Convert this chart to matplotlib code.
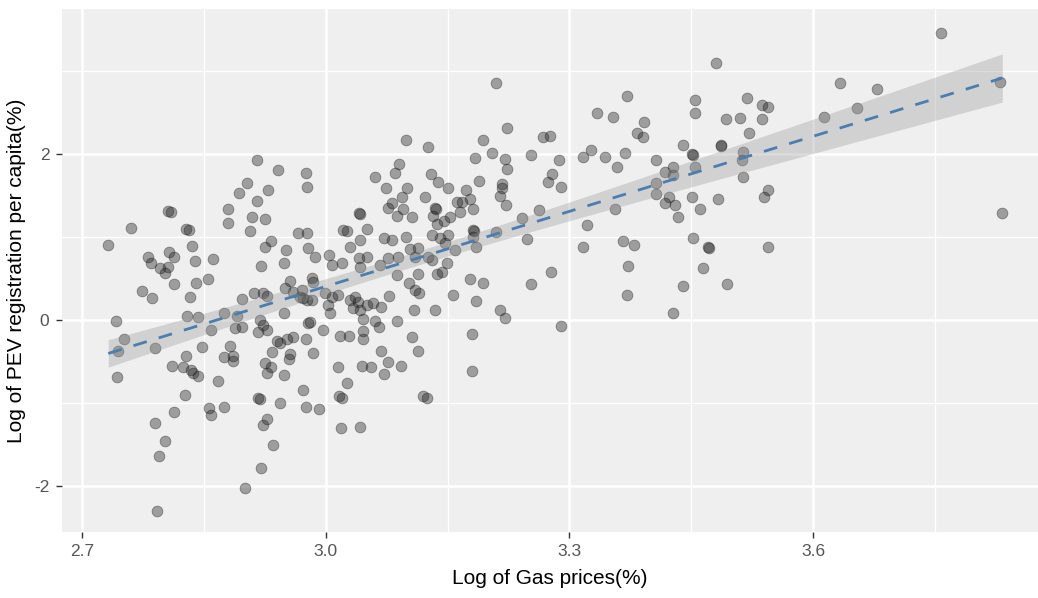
import numpy as np
import matplotlib
matplotlib.use("Agg")
import matplotlib.pyplot as plt

plt.rcParams['font.family'] = ['Liberation Sans', 'DejaVu Sans']

# log of gas prices (x) and log of PEV registrations per capita (y)
gas = [
    2.915, 2.941, 2.975, 2.977, 2.903, 2.893, 2.929, 2.915, 2.879, 2.880,
    2.909, 2.925, 2.906, 2.805, 2.809, 2.828, 2.831, 2.760, 2.732, 2.835,
    2.807, 2.813, 2.781, 2.785, 2.839, 2.861, 2.966, 2.977, 2.933, 2.925,
    2.951, 2.948, 2.920, 2.796, 2.806, 2.978,
    2.802, 2.813, 2.840, 2.855, 2.774, 2.786, 2.833, 2.897, 2.911, 2.922,
    2.928, 2.956, 2.950, 2.960, 2.968, 2.977, 2.948, 2.741, 2.752, 2.744,
    2.743, 2.790, 2.829, 2.842, 2.859, 2.848, 2.891, 2.888, 2.897, 2.919,
    2.922, 2.927, 2.917, 2.874, 2.882, 2.874, 2.886, 2.886, 2.828, 2.810,
    2.824, 2.834, 2.836, 2.842, 2.867, 2.826, 2.813, 2.856, 2.858, 2.875,
    2.790, 2.802, 2.795, 2.792, 2.901, 2.920, 2.935, 2.923, 2.928, 2.917,
    2.919, 2.944, 2.972, 2.976, 2.925, 2.932, 2.928, 2.948, 2.934, 2.940,
    2.943, 2.952, 2.960, 2.956, 2.954, 2.976, 2.978,
    3.210, 3.223, 3.268, 3.276, 3.099, 3.126, 3.194, 3.184, 3.205, 3.221,
    3.223, 3.253, 3.273, 3.090, 3.085, 3.061, 3.074, 3.100, 3.094, 3.130,
    3.138, 3.151, 3.122, 3.188, 3.217, 3.217, 3.215, 3.222, 3.172, 3.177,
    3.162, 3.168, 3.165, 3.181, 3.135, 3.136, 3.132, 3.137, 3.145, 3.153,
    3.077, 3.081, 3.088, 3.095, 3.106, 3.041, 3.042, 3.051, 3.021, 3.026,
    3.042, 3.030, 3.072, 3.082, 3.099, 3.131, 3.141, 3.151, 3.147, 3.181,
    3.183, 3.181, 3.185, 3.209, 3.242, 3.262, 3.248, 2.987, 3.004, 3.008,
    3.020, 3.041, 3.051, 3.042, 3.067, 3.076, 3.104, 3.114, 3.110, 3.126,
    3.131, 3.159, 3.149, 3.089,
    2.983, 2.984, 2.971, 2.972, 2.983, 2.999, 3.008, 3.015, 3.030, 3.036,
    3.040, 3.034, 3.042, 3.051, 3.058, 3.068, 3.078, 3.087, 3.102, 3.110,
    3.115, 3.113, 3.137, 3.143, 3.157, 3.177, 3.194, 3.185, 3.135, 3.108,
    3.253, 3.215, 3.221, 3.277, 3.003, 3.005, 2.981, 2.996, 3.046, 3.060,
    3.066, 3.088, 3.018, 3.028, 3.046, 3.046, 2.984, 3.068, 3.076, 3.106,
    3.114, 3.180, 3.015, 3.044, 3.055, 3.071, 3.093, 3.026, 3.016, 3.020,
    2.992, 3.120, 3.125, 3.180, 3.019, 3.042,
    3.481, 3.371, 3.334, 3.353, 3.392, 3.383, 3.390, 3.454, 3.454, 3.519,
    3.537, 3.545, 3.493, 3.510, 3.537, 3.521, 3.440, 3.451, 3.452, 3.486,
    3.487, 3.514, 3.513, 3.326, 3.317, 3.344, 3.368, 3.359, 3.407, 3.418,
    3.427, 3.428, 3.454, 3.514, 3.287, 3.279, 3.290, 3.406, 3.406, 3.422,
    3.418, 3.430, 3.434, 3.451, 3.461, 3.483, 3.544, 3.540, 3.356, 3.322,
    3.317, 3.366, 3.379, 3.452, 3.470, 3.472, 3.544, 3.372, 3.465,
    3.371, 3.440, 3.494, 3.427, 3.290,
    3.758, 3.633, 3.679, 3.654, 3.614, 3.830, 3.833,
]

pev = [
    1.93, 1.81, 1.78, 1.61, 1.66, 1.54, 1.57, 1.44, 1.34, 1.17,
    1.25, 1.22, 1.08, 1.32, 1.31, 1.10, 1.09, 1.11, 0.91, 0.90,
    0.83, 0.77, 0.77, 0.69, 0.72, 0.74, 1.05, 1.05, 0.96, 0.89,
    0.85, 0.69, 0.66, 0.63, 0.64, 0.87,
    0.57, 0.44, 0.45, 0.50, 0.36, 0.27, 0.28, 0.26, 0.33, 0.33,
    0.30, 0.48, 0.39, 0.34, 0.28, 0.25, 0.09, -0.01, -0.22, -0.37,
    -0.68, -0.33, 0.05, 0.04, -0.11, -0.32, 0.05, -0.09, -0.08, 0.01,
    -0.05, -0.11, -0.14, 0.09, -0.31, -0.44, -0.43, -0.49, -0.43, -0.55,
    -0.56, -0.60, -0.63, -0.67, -0.73, -0.90, -1.10, -1.05, -1.14, -1.04,
    -1.23, -1.45, -1.63, -2.30, -2.02, -1.78, -1.50, -1.26, -1.19, -0.93,
    -0.95, -0.99, -0.84, -1.04, -0.51, -0.56, -0.63, -0.66, -0.38, -0.25,
    -0.27, -0.22, -0.20, -0.40, -0.46, -0.22, -0.03,
    2.86, 2.32, 2.21, 2.22, 2.17, 2.09, 2.17, 1.96, 2.02, 1.95,
    1.83, 1.99, 1.67, 1.89, 1.78, 1.73, 1.60, 1.60, 1.49, 1.77,
    1.67, 1.60, 1.49, 1.68, 1.64, 1.60, 1.50, 1.39, 1.57, 1.46,
    1.43, 1.43, 1.31, 1.34, 1.36, 1.34, 1.26, 1.16, 1.20, 1.25,
    1.36, 1.42, 1.26, 1.34, 1.25, 1.30, 1.28, 1.10, 1.09, 1.08,
    0.97, 0.89, 0.99, 0.97, 1.01, 1.03, 0.99, 1.03, 0.93, 1.09,
    1.08, 1.01, 0.89, 1.07, 1.24, 1.33, 0.98, 0.77, 0.79, 0.67,
    0.69, 0.75, 0.77, 0.64, 0.67, 0.75, 0.86, 0.87, 0.77, 0.77,
    0.73, 0.85, 0.69, 0.77,
    0.51, 0.46, 0.37, 0.27, 0.25, 0.33, 0.28, 0.31, 0.25, 0.28,
    0.22, 0.15, 0.13, 0.19, 0.21, 0.16, 0.30, 0.55, 0.45, 0.37,
    0.33, 0.56, 0.56, 0.58, 0.31, 0.50, 0.45, 0.24, 0.13, 0.13,
    0.44, 0.13, 0.03, 0.58, 0.19, 0.09, -0.02, -0.11, 0.02, -0.01,
    -0.08, -0.01, -0.19, -0.19, -0.13, -0.22, -0.39, -0.37, -0.50, -0.20,
    -0.37, -0.16, -0.56, -0.55, -0.56, -0.64, -0.55, -0.75, -0.91, -0.93,
    -1.07, -0.91, -0.93, -0.61, -1.30, -1.28,
    3.10, 2.70, 2.50, 2.45, 2.39, 2.26, 2.21, 2.66, 2.50, 2.68,
    2.60, 2.57, 2.43, 2.44, 2.43, 2.26, 2.11, 2.01, 1.99, 2.11,
    2.10, 2.03, 1.93, 2.05, 1.97, 1.97, 2.02, 1.85, 1.93, 1.79,
    1.85, 1.75, 1.85, 1.73, 1.93, 1.77, 1.61, 1.66, 1.52, 1.49,
    1.42, 1.39, 1.25, 1.49, 1.34, 1.46, 1.57, 1.49, 1.34, 1.15,
    0.89, 0.96, 0.91, 0.99, 0.89, 0.87, 0.89, 0.66, 0.63,
    0.31, 0.42, 0.44, 0.09, -0.07,
    3.46, 2.86, 2.79, 2.56, 2.45, 2.87, 1.30,
]

x_ticks = [2.7, 3.0, 3.3, 3.6]
x_labels = ["2.7", "3.0", "3.3", "3.6"]
y_ticks = [-2, 0, 2]
y_labels = ["-2", "0", "2"]

x = np.array(gas)
y = np.array(pev)

# linear fit with 95% confidence band (like geom_smooth(method="lm"))
n = len(x)
b, a = np.polyfit(x, y, 1)
xs = np.linspace(x.min(), x.max(), 80)
fit = a + b * xs
resid = y - (a + b * x)
s = np.sqrt(np.sum(resid ** 2) / (n - 2))
sxx = np.sum((x - x.mean()) ** 2)
se = s * np.sqrt(1.0 / n + (xs - x.mean()) ** 2 / sxx)
lo = fit - 1.967 * se
hi = fit + 1.967 * se

fig = plt.figure(figsize=(10.38, 5.98), dpi=100)
ax = fig.add_axes([0.0597, 0.1104, 0.9403, 0.8746])
ax.set_facecolor('#EFEFEF')

ax.scatter(x, y, s=60, facecolor='#222222', edgecolor='#111111',
           alpha=0.40, linewidths=0.6, zorder=3)
ax.fill_between(xs, lo, hi, color='#999999', alpha=0.35, linewidth=0, zorder=4)
ax.plot(xs, fit, color='#4A7DB0', lw=2.0, dashes=(5, 4.5), zorder=5)

ax.set_xlim(2.675, 3.877)
ax.set_ylim(-2.548, 3.753)

ax.set_xticks(x_ticks)
ax.set_xticklabels(x_labels)
ax.set_xticks([2.85, 3.15, 3.45, 3.75], minor=True)
ax.set_yticks(y_ticks)
ax.set_yticklabels(y_labels)
ax.set_yticks([-1, 1, 3], minor=True)

ax.grid(which='major', color='white', lw=1.8, zorder=0)
ax.grid(which='minor', color='white', lw=0.9, zorder=0)
ax.set_axisbelow(True)
for sp in ax.spines.values():
    sp.set_visible(False)

ax.tick_params(which='major', length=4, width=1, color='#333333',
               labelcolor='#555555', labelsize=12.5, pad=5)
ax.tick_params(which='minor', length=0)

ax.set_xlabel("Log of Gas prices(%)", fontsize=15, color='black', labelpad=7)
ax.set_ylabel("Log of PEV registration per capita(%)", fontsize=15, color='black', labelpad=6)

fig.savefig("out.png", dpi=100)
